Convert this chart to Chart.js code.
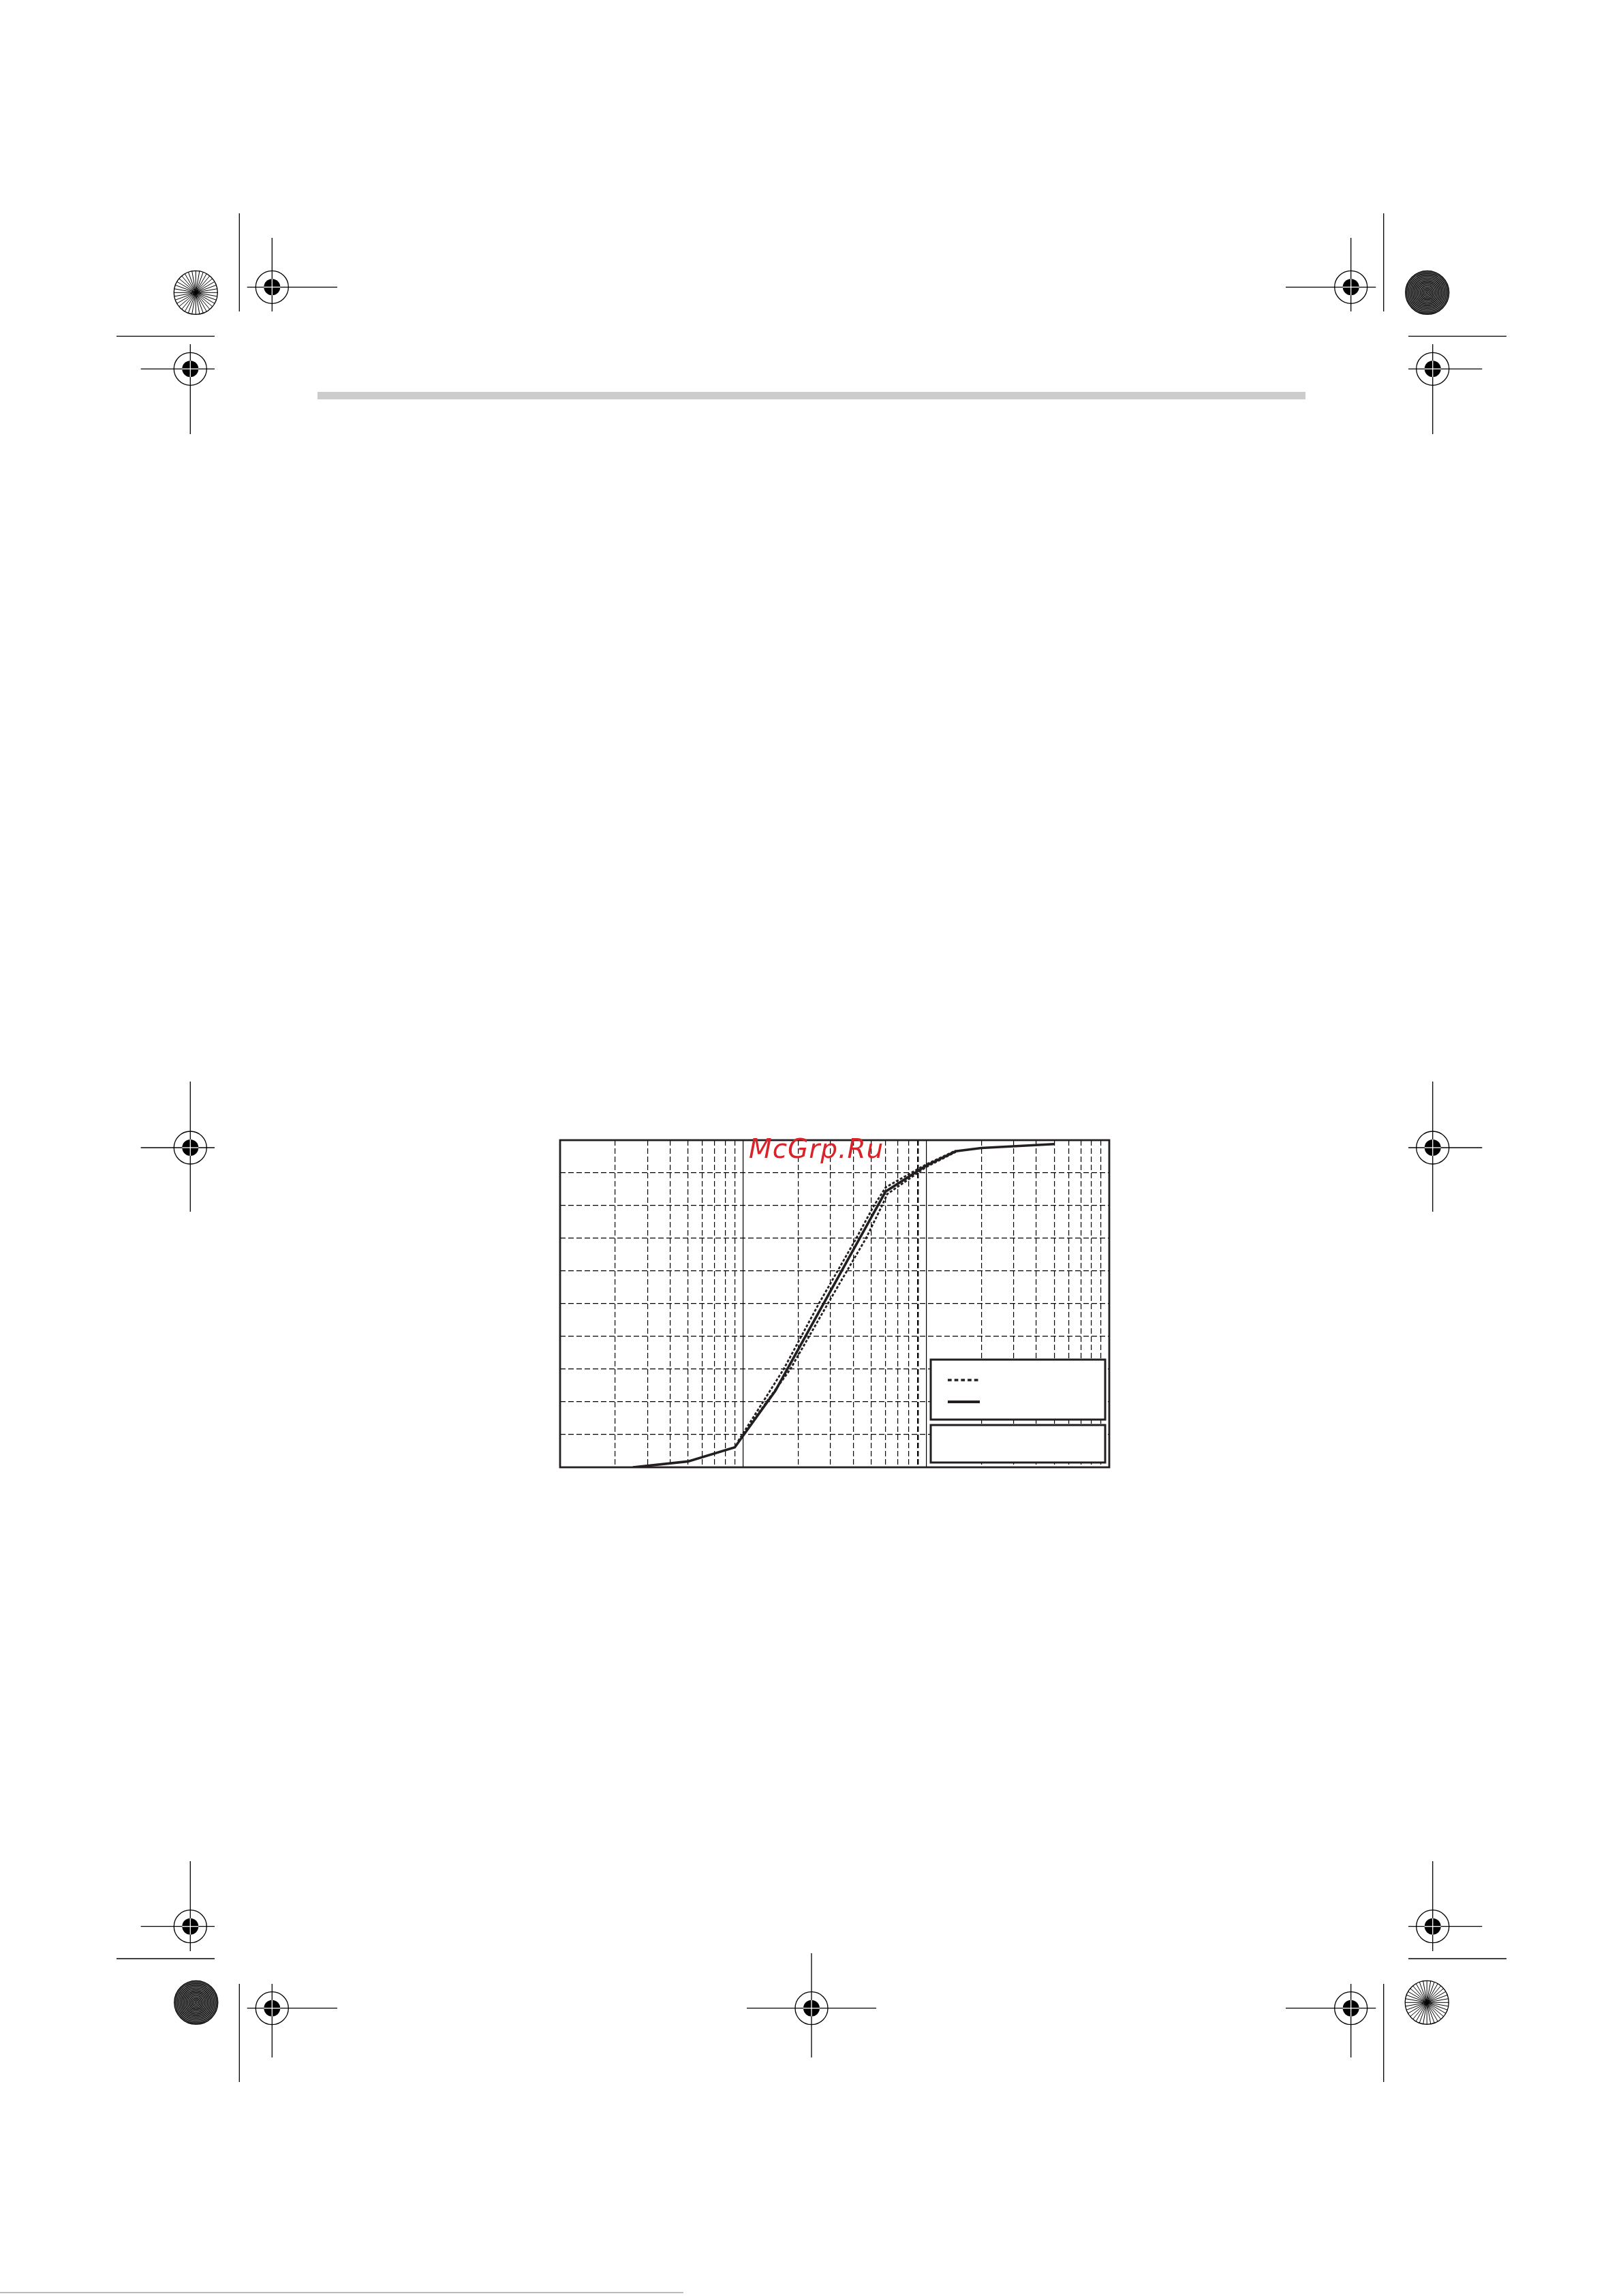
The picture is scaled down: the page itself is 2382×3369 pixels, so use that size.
<!DOCTYPE html>
<html>
<head>
<meta charset="utf-8">
<title>Grading curve</title>
<script src="https://cdn.jsdelivr.net/npm/chart.js@4.4.0/dist/chart.umd.min.js"></script>
<style>
  html, body { margin: 0; padding: 0; background: #fff; }
  #page { position: relative; width: 2382px; height: 3369px; overflow: hidden; background: #fff; }
  #marks { position: absolute; left: 0; top: 0; }
  #bar { position: absolute; left: 466px; top: 575px; width: 1450px; height: 11px; background: #cccccc; }
  #box { position: absolute; left: 818px; top: 1669px; width: 814px; height: 488px; }
  #wm { position: absolute; left: 1099px; top: 1666px; font: oblique 39px/39px "DejaVu Sans", sans-serif;
        letter-spacing: 1px; color: #d8232a; white-space: nowrap; }
</style>
</head>
<body>
<div id="page">
  <svg id="marks" width="2382" height="3369" xmlns="http://www.w3.org/2000/svg"></svg>
  <div id="bar"></div>
  <div id="box"><canvas id="grading"></canvas></div>
  <div id="wm">McGrp.Ru</div>
</div>

<script>
// grading curve (x = size on a log axis, y = % passing)
const solidX = [0.025, 0.05, 0.09, 0.15, 0.6, 1.0, 1.45, 2.0, 5.0];
const solidY = [0, 1.8, 6.1, 23.4, 84.3, 92.2, 96.6, 97.6, 98.8];

// limit curves (dashed)
const upperX = [0.094, 0.1665, 0.259, 0.415, 0.5185, 0.6016, 1.0, 1.45];
const upperY = [8, 30, 50, 70, 80, 85.6, 92.6, 96.8];
const lowerX = [0.094, 0.181, 0.29, 0.469, 0.574, 0.612, 1.0, 1.45];
const lowerY = [8, 30, 50, 70, 80, 83.5, 91.8, 96.4];

// grid ticks
const xTicks = [0.01, 0.02, 0.03, 0.04, 0.05, 0.06, 0.07, 0.08, 0.09,
                0.1, 0.2, 0.3, 0.4, 0.5, 0.6, 0.7, 0.8, 0.9,
                1, 2, 3, 4, 5, 6, 7, 8, 9, 10];
const xDecades = [0.01, 0.1, 1, 10];
const yTicks = [0, 10, 20, 30, 40, 50, 60, 70, 80, 90, 100];

const INK = '#231f20';

function pts(xs, ys) {
    return xs.map((x, i) => ({x: x, y: ys[i]}));
}

// frame and the two legend boxes (no text in the original)
const framePlugin = {
    id: 'frame',
    afterDraw(chart) {
        const ctx = chart.ctx;
        const a = chart.chartArea;
        ctx.save();
        ctx.strokeStyle = INK;
        ctx.fillStyle = '#fff';

        // legend box
        ctx.lineWidth = 3;
        ctx.beginPath();
        ctx.rect(a.right - 262, a.bottom - 158, 256, 88);
        ctx.fill();
        ctx.stroke();
        // empty box below
        ctx.beginPath();
        ctx.rect(a.right - 262, a.bottom - 62, 256, 55);
        ctx.fill();
        ctx.stroke();

        // legend samples
        ctx.lineWidth = 3.3;
        ctx.setLineDash([5.7, 4]);
        ctx.beginPath();
        ctx.moveTo(a.right - 237, a.bottom - 128);
        ctx.lineTo(a.right - 190, a.bottom - 128);
        ctx.stroke();
        ctx.setLineDash([]);
        ctx.lineWidth = 4;
        ctx.beginPath();
        ctx.moveTo(a.right - 237, a.bottom - 96);
        ctx.lineTo(a.right - 190, a.bottom - 96);
        ctx.stroke();

        // plot frame
        ctx.lineWidth = 2.8;
        ctx.strokeRect(a.left, a.top, a.right - a.left, a.bottom - a.top);
        ctx.restore();
    }
};

function isDecade(v) {
    return xDecades.some(d => Math.abs(d - v) < 1e-9);
}

new Chart(document.getElementById('grading'), {
    type: 'scatter',
    data: {
        datasets: [
            {
                label: 'upper limit',
                data: pts(upperX, upperY),
                showLine: true,
                borderColor: INK,
                borderWidth: 2.8,
                borderDash: [4, 2.5],
                pointRadius: 0,
                tension: 0
            },
            {
                label: 'lower limit',
                data: pts(lowerX, lowerY),
                showLine: true,
                borderColor: INK,
                borderWidth: 2.8,
                borderDash: [4, 2.5],
                pointRadius: 0,
                tension: 0
            },
            {
                label: 'sample',
                data: pts(solidX, solidY),
                showLine: true,
                borderColor: INK,
                borderWidth: 3.6,
                pointRadius: 0,
                tension: 0
            }
        ]
    },
    options: {
        responsive: true,
        maintainAspectRatio: false,
        animation: false,
        layout: { padding: 4 },
        plugins: {
            legend: { display: false },
            tooltip: { enabled: false }
        },
        scales: {
            x: {
                type: 'logarithmic',
                min: 0.01,
                max: 10,
                afterBuildTicks: (scale) => { scale.ticks = xTicks.map(v => ({value: v})); },
                ticks: { display: false },
                grid: {
                    drawTicks: false,
                    color: '#000',
                    lineWidth: (c) => (c.tick && Math.abs(c.tick.value - 0.9) < 1e-9) ? 2.4 : 1.2
                },
                border: {
                    display: false,
                    dash: (c) => (c.tick && isDecade(c.tick.value)) ? [] : [8, 4]
                }
            },
            y: {
                min: 0,
                max: 100,
                afterBuildTicks: (scale) => { scale.ticks = yTicks.map(v => ({value: v})); },
                ticks: { display: false },
                grid: { drawTicks: false, color: '#000', lineWidth: 1.2 },
                border: { display: false, dash: [8, 4] }
            }
        }
    },
    plugins: [framePlugin]
});

// printer's registration marks around the page
const svg = document.getElementById('marks');
const NS = 'http://www.w3.org/2000/svg';
function el(name, attrs) {
    const e = document.createElementNS(NS, name);
    for (const k in attrs) e.setAttribute(k, attrs[k]);
    svg.appendChild(e);
    return e;
}
function line(x1, y1, x2, y2, col, w) {
    el('line', {x1: x1, y1: y1, x2: x2, y2: y2, stroke: col || '#000', 'stroke-width': w || 1.3});
}
function target(cx, cy, hx1, hx2, vy1, vy2) {
    line(hx1, cy, hx2, cy);
    line(cx, vy1, cx, vy2);
    el('circle', {cx: cx, cy: cy, r: 24, fill: 'none', stroke: '#000', 'stroke-width': 1.3});
    el('circle', {cx: cx, cy: cy, r: 12, fill: '#000'});
    line(cx - 12, cy, cx + 12, cy, '#fff', 1.3);
    line(cx, cy - 12, cx, cy + 12, '#fff', 1.3);
}
function starburst(cx, cy) {
    for (let i = 0; i < 36; i++) {
        const t = i * Math.PI / 18;
        line(cx, cy, cx + 32 * Math.cos(t), cy + 32 * Math.sin(t), '#000', 1);
    }
    el('circle', {cx: cx, cy: cy, r: 32, fill: 'none', stroke: '#000', 'stroke-width': 1.3});
}
function rings(cx, cy) {
    el('circle', {cx: cx, cy: cy, r: 32, fill: '#777'});
    for (let r = 1.5; r <= 32; r += 2.2) {
        el('circle', {cx: cx, cy: cy, r: r, fill: 'none', stroke: '#000', 'stroke-width': 1.1});
    }
    el('circle', {cx: cx, cy: cy, r: 32, fill: 'none', stroke: '#000', 'stroke-width': 1.3});
}
const W = 2382;
// top
line(351.3, 313, 351.3, 457); line(171, 493.3, 315, 493.3);
line(W - 351.3, 313, W - 351.3, 457); line(W - 315, 493.3, W - 171, 493.3);
starburst(287.3, 429.3); rings(W - 287.3, 429.3);
target(399.3, 421.3, 362.7, 495, 349, 457);
target(W - 399.3, 421.3, W - 495, W - 362.7, 349, 457);
target(279.3, 541.3, 206.7, 315, 505, 637);
target(W - 279.3, 541.3, W - 315, W - 206.7, 505, 637);
// middle
target(279.3, 1684, 206.7, 315, 1587, 1778);
target(W - 279.3, 1684, W - 315, W - 206.7, 1587, 1778);
// bottom
line(351.3, 2911, 351.3, 3055); line(171, 2874, 315, 2874);
line(W - 351.3, 2911, W - 351.3, 3055); line(W - 315, 2874, W - 171, 2874);
rings(287.8, 2938.3); starburst(W - 287.8, 2938.3);
target(279.3, 2826.7, 206.7, 315, 2731, 2863);
target(W - 279.3, 2826.7, W - 315, W - 206.7, 2731, 2863);
target(399.3, 2946.7, 362.7, 495, 2911, 3019);
target(W - 399.3, 2946.7, W - 495, W - 362.7, 2911, 3019);
target(1191, 2946.7, 1096, 1286, 2866, 3019);
line(0, 3364, 1003, 3364, '#777', 1);
</script>
</body>
</html>
